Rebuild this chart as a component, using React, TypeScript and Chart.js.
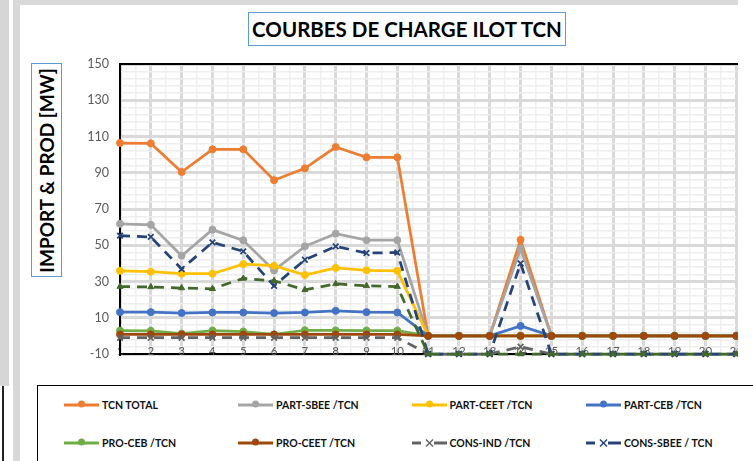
import React, { useEffect, useRef } from 'react';
import { Chart, registerables } from 'chart.js';

Chart.register(...registerables);

// ---------- data ----------
const categories = [1, 2, 3, 4, 5, 6, 7, 8, 9, 10, 11, 12, 13, 14, 15, 16, 17, 18, 19, 20, 21];
const xTickLabels = categories.map((c) => String(c));
const yMin = -10;
const yMax = 150;
const yLabelStep = 20;
const yMinorStep = 4;

const chartTitle = 'COURBES DE CHARGE ILOT TCN';
const yAxisTitle = 'IMPORT & PROD [MW]';

const seriesNames = [
  'TCN TOTAL',
  'PART-SBEE /TCN',
  'PART-CEET /TCN',
  'PART-CEB /TCN',
  'PRO-CEB /TCN',
  'PRO-CEET /TCN',
  'CONS-IND /TCN',
  'CONS-SBEE / TCN',
  'CONS /TCN',
];

const tcnTotal = [106.4, 106.2, 90.4, 102.9, 102.9, 85.9, 92.4, 104.2, 98.5, 98.5, 0, 0, 0, 53, 0, 0, 0, 0, 0, 0, 0];
const partSbee = [61.8, 61.3, 44.2, 58.6, 52.7, 36.1, 49.4, 56.4, 52.8, 52.8, 0, 0, 0, 48, 0, 0, 0, 0, 0, 0, 0];
const partCeet = [35.9, 35.4, 34.3, 34.3, 39.6, 38.7, 33.6, 37.5, 36.2, 35.9, 0, 0, 0, 0, 0, 0, 0, 0, 0, 0, 0];
const partCeb = [13.1, 13.1, 12.6, 12.9, 12.9, 12.6, 12.9, 13.8, 13.1, 12.9, 0, 0, 0, 5.5, 0, 0, 0, 0, 0, 0, 0];
const proCeb = [2.9, 2.8, 1.2, 2.9, 2.4, 0.8, 3.1, 3.0, 2.9, 2.9, 0, 0, 0, 0, 0, 0, 0, 0, 0, 0, 0];
const proCeet = [0.8, 0.8, 0.8, 0.8, 0.8, 0.8, 0.8, 0.8, 0.8, 0.8, 0, 0, 0, 0, 0, 0, 0, 0, 0, 0, 0];
const consInd = [-1, -1, -1, -1, -1, -1, -1, -1, -1, -1, -10, -10, -10, -6, -10, -10, -10, -10, -10, -10, -10];
const consSbee = [55.3, 54.6, 36.9, 51.6, 46.6, 27.6, 42, 49.4, 45.7, 46, -10, -10, -10, 40, -10, -10, -10, -10, -10, -10, -10];
const consOther = [27.2, 27, 26.4, 26, 31.7, 30.4, 25.4, 28.7, 27.6, 27.2, -10, -10, -10, -10, -10, -10, -10, -10, -10, -10, -10];

const seriesValues = [tcnTotal, partSbee, partCeet, partCeb, proCeb, proCeet, consInd, consSbee, consOther];

// ---------- styles ----------
const seriesColors = ['#ED7D31', '#A5A5A5', '#FFC000', '#4472C4', '#70AD47', '#9E480E', '#636363', '#264478', '#43682B'];
const seriesDashed = [false, false, false, false, false, false, true, true, true];
const seriesMarkers = ['circle', 'circle', 'circle', 'circle', 'circle', 'circle', 'crossRot', 'crossRot', 'triangle'];
const legendCount = 8;
const legendCols = [64, 238, 411.5, 586];
const legendRows = [405, 443];

const FONT = 'Lato, "Open Sans", "Liberation Sans", sans-serif';

function LegendSample({ color, dashed, marker }: { color: string; dashed: boolean; marker: string }) {
  if (dashed) {
    return (
      <svg width={36} height={12} style={{ position: 'absolute', left: 0, top: -6 }}>
        <line x1={0} y1={6} x2={9} y2={6} stroke={color} strokeWidth={3} />
        <line x1={22} y1={6} x2={35} y2={6} stroke={color} strokeWidth={3} />
        <line x1={14} y1={2.5} x2={21} y2={9.5} stroke={color} strokeWidth={1.5} />
        <line x1={14} y1={9.5} x2={21} y2={2.5} stroke={color} strokeWidth={1.5} />
      </svg>
    );
  }
  return (
    <svg width={36} height={12} style={{ position: 'absolute', left: 0, top: -6 }}>
      <line x1={0} y1={6} x2={35} y2={6} stroke={color} strokeWidth={3} />
      {marker === 'circle' ? <circle cx={17.5} cy={5} r={3.5} fill={color} /> : null}
    </svg>
  );
}

const plotFrame = {
  id: 'plotFrame',
  beforeDatasetsDraw(chart: any) {
    const { ctx, chartArea } = chart;
    ctx.save();
    ctx.strokeStyle = '#000';
    ctx.lineWidth = 2;
    ctx.beginPath();
    ctx.moveTo(chartArea.left - 1, chartArea.top);
    ctx.lineTo(chartArea.right + 20, chartArea.top);
    ctx.stroke();
    ctx.restore();
  },
};

export default function App() {
  const canvasRef = useRef<HTMLCanvasElement>(null);

  useEffect(() => {
    document.body.style.margin = '0';
    const canvas = canvasRef.current;
    if (!canvas) return;

    const xGrid: number[] = [];
    for (let i = 0; i < categories.length; i++) {
      xGrid.push(categories[i]);
      if (i < categories.length - 1) xGrid.push((categories[i] + categories[i + 1]) / 2);
    }

    const datasets = seriesNames.map((name, i) => ({
      label: name,
      data: seriesValues[i].map((v, k) => ({ x: categories[k], y: v })),
      borderColor: seriesColors[i],
      backgroundColor: seriesColors[i],
      borderWidth: 2.75,
      borderDash: seriesDashed[i] ? [10, 7] : [],
      borderCapStyle: 'butt',
      pointStyle: seriesMarkers[i],
      pointRadius: seriesMarkers[i] === 'crossRot' ? 4 : 3.5,
      pointBorderWidth: seriesMarkers[i] === 'crossRot' ? 1.75 : 1,
      pointBorderColor: seriesColors[i],
      pointBackgroundColor: seriesColors[i],
      order: seriesNames.length - i,
      clip: false as any,
      tension: 0,
      fill: false,
    }));

    const chart = new Chart(canvas, {
      type: 'line',
      data: { datasets: datasets as any },
      plugins: [plotFrame],
      options: {
        responsive: false,
        animation: false,
        events: [],
        layout: { padding: { left: 0, top: 59, right: 2, bottom: 11 } },
        plugins: {
          legend: { display: false },
          title: { display: false },
          tooltip: { enabled: false },
        },
        scales: {
          x: {
            type: 'linear',
            min: categories[0],
            max: categories[categories.length - 1],
            afterFit: (s: any) => {
              s.height = 0;
              s.paddingLeft = 0;
              s.paddingRight = 0;
              s.paddingTop = 0;
              s.paddingBottom = 0;
            },
            afterBuildTicks: (s: any) => {
              s.ticks = xGrid.map((v) => ({ value: v }));
            },
            ticks: {
              autoSkip: false,
              maxRotation: 0,
              mirror: true,
              padding: -4,
              color: '#595959',
              font: { family: FONT, size: 11.5 },
              callback: (v: any) => {
                const idx = categories.indexOf(Number(v));
                return idx >= 0 ? xTickLabels[idx] : '';
              },
            },
            grid: {
              drawTicks: false,
              color: (c: any) => (Number.isInteger(c.tick?.value) ? '#d9d9d9' : '#f0f0f0'),
              lineWidth: (c: any) => (Number.isInteger(c.tick?.value) ? 3 : 1.5),
            },
            border: { display: true, color: '#000', width: 2 },
          },
          y: {
            min: yMin,
            max: yMax,
            afterFit: (s: any) => {
              s.width = 100;
              s.paddingLeft = 0;
              s.paddingRight = 0;
              s.paddingTop = 0;
              s.paddingBottom = 0;
            },
            ticks: {
              stepSize: yMinorStep,
              autoSkip: false,
              maxTicksLimit: 200,
              padding: 11,
              color: '#595959',
              font: { family: FONT, size: 12.5 },
              callback: (v: any) => ((Number(v) - yMin) % yLabelStep === 0 ? String(v) : ''),
            },
            grid: {
              drawTicks: false,
              color: (c: any) => ((c.tick?.value - yMin) % yLabelStep === 0 ? '#d9d9d9' : '#eeeeee'),
              lineWidth: (c: any) => ((c.tick?.value - yMin) % yLabelStep === 0 ? 3 : 1.5),
            },
            border: { display: true, color: '#000', width: 2 },
          },
        },
      },
    });
    return () => chart.destroy();
  }, []);

  return (
    <div style={{ position: 'absolute', left: 0, top: 0, width: 753, height: 461, overflow: 'hidden', background: '#fff', fontFamily: FONT }}>
      {/* Excel frame */}
      <div style={{ position: 'absolute', left: 0, top: 0, width: 9, height: 386, background: '#d6d6d6' }} />
      <div style={{ position: 'absolute', left: 2, top: 386, width: 1.5, height: 75, background: '#222' }} />
      <div style={{ position: 'absolute', left: 13, top: 0, width: 7, height: 461, background: '#d9d9d9' }} />
      <div style={{ position: 'absolute', left: 13, top: 0, width: 725, height: 5, background: '#d9d9d9' }} />

      {/* Title */}
      <div
        style={{
          position: 'absolute',
          left: 248,
          top: 12,
          width: 316,
          height: 32,
          border: '1px solid #5B9BD5',
          display: 'flex',
          alignItems: 'center',
          justifyContent: 'center',
          fontWeight: 700,
          fontSize: 20.5,
          color: '#000',
          whiteSpace: 'nowrap',
        }}
      >
        {chartTitle}
      </div>

      {/* Y axis title */}
      <div
        style={{
          position: 'absolute',
          left: 31,
          top: 63,
          width: 29,
          height: 212,
          border: '1px solid #5B9BD5',
          display: 'flex',
          alignItems: 'center',
          justifyContent: 'center',
          background: '#fff',
        }}
      >
        <div style={{ transform: 'rotate(-90deg)', whiteSpace: 'nowrap', fontWeight: 700, fontSize: 19, color: '#000' }}>
          {yAxisTitle}
        </div>
      </div>

      {/* Chart */}
      <div style={{ position: 'absolute', left: 20, top: 5, width: 718, height: 370, overflow: 'hidden' }}>
        <canvas ref={canvasRef} width={722} height={360} style={{ position: 'absolute', left: 0, top: 0, width: 722, height: 360 }} />
      </div>

      {/* Legend */}
      <div style={{ position: 'absolute', left: 37, top: 385, width: 740, height: 120, border: '1.5px solid #000', boxSizing: 'border-box' }} />
      {seriesNames.slice(0, legendCount).map((name, i) => {
        const col = i % legendCols.length;
        const row = Math.floor(i / legendCols.length);
        return (
          <div key={name} style={{ position: 'absolute', left: legendCols[col], top: legendRows[row], height: 0 }}>
            <LegendSample color={seriesColors[i]} dashed={seriesDashed[i]} marker={seriesMarkers[i]} />
            <div
              style={{
                position: 'absolute',
                left: 38,
                top: -8,
                lineHeight: '16px',
                fontSize: 10.5,
                fontWeight: 700,
                color: '#111',
                whiteSpace: 'nowrap',
              }}
            >
              {name}
            </div>
          </div>
        );
      })}
    </div>
  );
}
